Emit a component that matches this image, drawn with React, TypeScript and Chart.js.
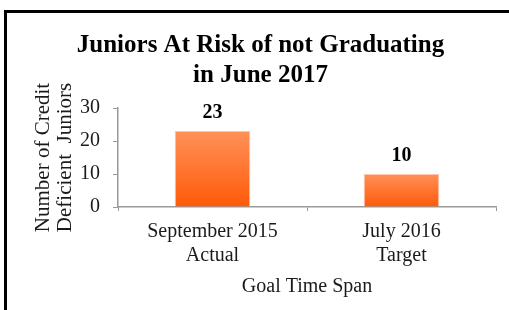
import React, { useEffect, useRef } from "react";
import { Chart, registerables } from "chart.js";

Chart.register(...registerables);

const titleLines = ["Juniors At Risk of not Graduating", "in June 2017"];
const categories = [["September 2015", "Actual"], ["July 2016", "Target"]];
const values = [23, 10];
const yTitleLines = ["Number of Credit", "Deficient  Juniors"];
const xTitle = "Goal Time Span";
const yMin = 0;
const yMax = 30;
const yStep = 10;

const SERIF = "'Liberation Serif', 'Times New Roman', serif";

const framePlugin = {
  id: "frame",
  beforeDraw(chart: any) {
    const ctx = chart.ctx;
    ctx.save();
    ctx.fillStyle = "#ffffff";
    ctx.fillRect(0, 0, chart.width, chart.height);
    ctx.fillStyle = "#000000";
    ctx.fillRect(4, 10, chart.width - 4, 3);
    ctx.fillRect(4, 10, 3, chart.height - 10);
    ctx.restore();
  },
};

const valueLabelPlugin = {
  id: "valueLabels",
  afterDatasetsDraw(chart: any) {
    const ctx = chart.ctx;
    const meta = chart.getDatasetMeta(0);
    ctx.save();
    ctx.font = `bold 20px ${SERIF}`;
    ctx.fillStyle = "#000000";
    ctx.textAlign = "center";
    ctx.textBaseline = "middle";
    meta.data.forEach((bar: any, i: number) => {
      ctx.fillText(String(chart.data.datasets[0].data[i]), bar.x, bar.y - 18);
    });
    ctx.restore();
  },
};

export default function App() {
  const canvasRef = useRef<HTMLCanvasElement>(null);

  useEffect(() => {
    if (!canvasRef.current) return;
    const chart = new Chart(canvasRef.current, {
      type: "bar",
      data: {
        labels: categories as any,
        datasets: [
          {
            data: values,
            backgroundColor: (c: any) => {
              const ch = c.chart;
              const ys = ch.scales?.y;
              if (!ch.chartArea || !ys || c.parsed == null) return "#ff7030";
              const top = ys.getPixelForValue(c.parsed.y);
              const bottom = ys.getPixelForValue(0);
              const g = ch.ctx.createLinearGradient(0, top, 0, bottom);
              g.addColorStop(0, "#ff9158");
              g.addColorStop(1, "#ff5a0a");
              return g;
            },
            borderColor: "rgba(255, 190, 160, 0.9)",
            borderWidth: 1,
            barPercentage: 0.4,
            categoryPercentage: 1,
          },
        ],
      },
      options: {
        responsive: false,
        animation: false,
        layout: { padding: { top: 0, left: 25, right: 13, bottom: 0 } },
        plugins: {
          legend: { display: false },
          tooltip: { enabled: false },
          title: {
            display: true,
            text: titleLines,
            color: "#000000",
            font: { family: SERIF, size: 25, weight: "bold", lineHeight: 1.2 },
            padding: { top: 31, bottom: 17 },
          },
        },
        scales: {
          x: {
            grid: {
              display: true,
              drawOnChartArea: false,
              drawTicks: true,
              tickLength: 4,
              color: "#9a9a9a",
              lineWidth: 1,
            },
            border: { display: true, color: "#9a9a9a", width: 1.5 },
            ticks: {
              color: "#1a1a1a",
              font: { family: SERIF, size: 20, lineHeight: 1.2 },
              padding: 9,
              maxRotation: 0,
              autoSkip: false,
            },
            title: {
              display: true,
              text: xTitle,
              color: "#1a1a1a",
              font: { family: SERIF, size: 20, lineHeight: 1.2 },
              padding: { top: 0, bottom: 11 },
            },
            afterFit(scale: any) {
              scale.height = 103;
            },
          },
          y: {
            min: yMin,
            max: yMax,
            grid: {
              display: true,
              drawOnChartArea: false,
              drawTicks: true,
              tickLength: 5,
              color: "#9a9a9a",
              lineWidth: 1,
            },
            border: { display: true, color: "#9a9a9a", width: 1.5 },
            ticks: {
              stepSize: yStep,
              color: "#1a1a1a",
              font: { family: SERIF, size: 20 },
              padding: 13,
            },
            title: {
              display: true,
              text: yTitleLines,
              color: "#1a1a1a",
              font: { family: SERIF, size: 21, lineHeight: 1.05 },
              padding: { top: 7, bottom: 0 },
            },
            afterFit(scale: any) {
              scale.width = 93;
            },
          },
        },
      },
      plugins: [framePlugin, valueLabelPlugin],
    });
    return () => chart.destroy();
  }, []);

  return (
    <div style={{ position: "fixed", left: 0, top: 0, width: 509, height: 310 }}>
      <canvas ref={canvasRef} width={509} height={310} />
    </div>
  );
}
